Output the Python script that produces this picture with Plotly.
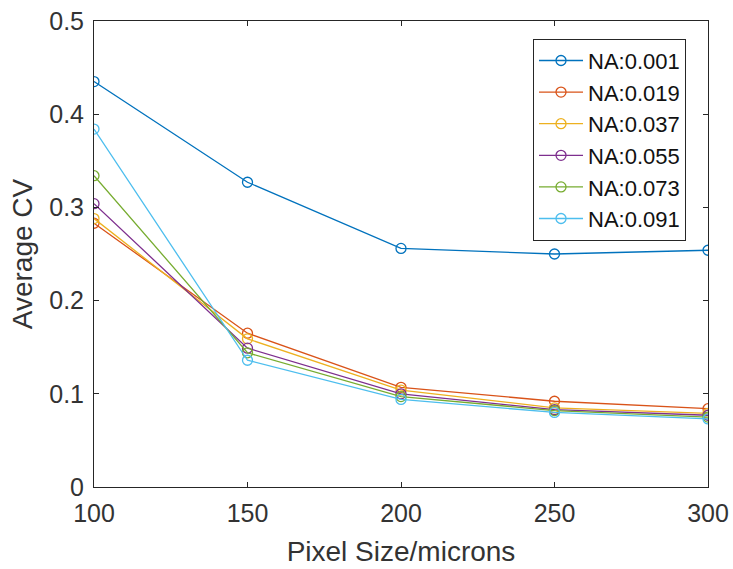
import plotly.graph_objects as go

pixel_size = [100, 150, 200, 250, 300]
series_names = ["NA:0.001", "NA:0.019", "NA:0.037", "NA:0.055", "NA:0.073", "NA:0.091"]
cv_na_0001 = [0.435, 0.327, 0.256, 0.250, 0.254]
cv_na_0019 = [0.283, 0.165, 0.107, 0.092, 0.084]
cv_na_0037 = [0.288, 0.159, 0.104, 0.085, 0.079]
cv_na_0055 = [0.304, 0.149, 0.100, 0.083, 0.077]
cv_na_0073 = [0.334, 0.144, 0.097, 0.082, 0.075]
cv_na_0091 = [0.384, 0.136, 0.094, 0.080, 0.073]
series_values = [cv_na_0001, cv_na_0019, cv_na_0037, cv_na_0055, cv_na_0073, cv_na_0091]
colors = ["#0072BD", "#D95319", "#EDB120", "#7E2F8E", "#77AC30", "#4DBEEE"]
x_ticks = [100, 150, 200, 250, 300]
y_ticks = [0, 0.1, 0.2, 0.3, 0.4, 0.5]

FONT = "Liberation Sans, Arial, sans-serif"
AX = "#262626"
TXT = "#333333"

fig = go.Figure()
for name, vals, col in zip(series_names, series_values, colors):
    fig.add_trace(go.Scatter(
        x=pixel_size, y=vals, name=name, mode="lines+markers",
        legendgroup=name,
        line=dict(color=col, width=1.3),
        marker=dict(symbol="circle-open", size=10, color=col, line=dict(width=1.3, color=col)),
    ))

fig.update_layout(
    width=733, height=569,
    margin=dict(l=94, r=25, t=21, b=82),
    paper_bgcolor="white", plot_bgcolor="white",
    font=dict(family=FONT, color=TXT),
    showlegend=True,
    legend=dict(
        x=0.715, y=0.962, xanchor="left", yanchor="top",
        bgcolor="white", bordercolor=AX, borderwidth=1,
        font=dict(size=22, family=FONT, color="#111111"),
        tracegroupgap=0, itemwidth=44,
    ),
    xaxis=dict(
        range=[100, 300], tickvals=x_ticks, ticktext=[str(v) for v in x_ticks],
        ticks="inside", ticklen=5, tickcolor=AX, showline=True, linecolor=AX, linewidth=1,
        mirror="ticks", showgrid=False, zeroline=False, automargin=False,
        tickfont=dict(size=25, family=FONT, color=TXT), ticklabelstandoff=4,
        title=dict(text="Pixel Size/microns", font=dict(size=28, family=FONT, color=TXT), standoff=15),
    ),
    yaxis=dict(
        range=[0, 0.5], tickvals=y_ticks, ticktext=["0", "0.1", "0.2", "0.3", "0.4", "0.5"],
        ticks="inside", ticklen=5, tickcolor=AX, showline=True, linecolor=AX, linewidth=1,
        mirror="ticks", showgrid=False, zeroline=False, automargin=False,
        tickfont=dict(size=25, family=FONT, color=TXT), ticklabelstandoff=4,
        title=dict(text="Average CV", font=dict(size=28, family=FONT, color=TXT), standoff=8),
    ),
)

fig.write_html("out.html")
